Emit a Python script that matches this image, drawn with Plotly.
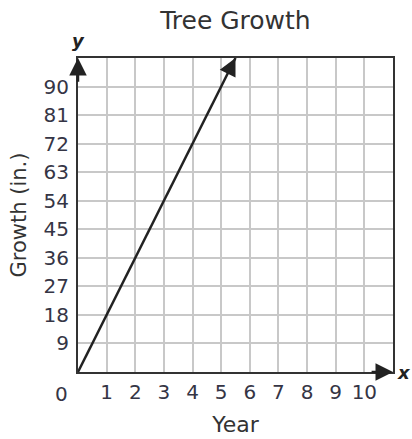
import plotly.graph_objects as go

# Data
years = [0, 5.5]
growth = [0, 99]
x_ticks = [1, 2, 3, 4, 5, 6, 7, 8, 9, 10]
y_ticks = [9, 18, 27, 36, 45, 54, 63, 72, 81, 90]
x_max = 11
y_max = 99

FONT = "DejaVu Sans"
TXT = "#353545"

fig = go.Figure()
fig.add_trace(go.Scatter(x=years, y=growth, mode="lines",
                         line=dict(color="#222222", width=2.5),
                         hoverinfo="skip", showlegend=False))

annotations = [
    # main line arrowhead
    dict(x=years[-1], y=growth[-1], ax=years[-1] - 0.3, ay=growth[-1] - 0.3 * 18,
         xref="x", yref="y", axref="x", ayref="y", showarrow=True, text="",
         arrowhead=2, arrowsize=1.4, arrowwidth=2.5, arrowcolor="#222222"),
    # y axis arrow
    dict(x=0, y=y_max, ax=0, ay=y_max - 8, xref="x", yref="y", axref="x", ayref="y",
         showarrow=True, text="", arrowhead=2, arrowsize=1.4, arrowwidth=2.5, arrowcolor="#222222"),
    # x axis arrow
    dict(x=x_max, y=0, ax=x_max - 0.8, ay=0, xref="x", yref="y", axref="x", ayref="y",
         showarrow=True, text="", arrowhead=2, arrowsize=1.4, arrowwidth=2.5, arrowcolor="#222222"),
    dict(x=0, y=y_max, xref="x", yref="y", yshift=5, text="<b><i>y</i></b>", showarrow=False,
         font=dict(family=FONT, size=18, color="#222222"), yanchor="bottom"),
    dict(x=x_max, y=0, xref="x", yref="y", xshift=2, text="<b><i>x</i></b>", showarrow=False,
         font=dict(family=FONT, size=18, color="#222222"), xanchor="left"),
    dict(x=0, y=0, xref="x", yref="y", xshift=-17, yshift=-8, text="0", showarrow=False,
         font=dict(family=FONT, size=20, color=TXT), yanchor="top", xanchor="center"),
]

fig.update_layout(
    width=412, height=439,
    margin=dict(l=78, r=19, t=58, b=67),
    paper_bgcolor="white", plot_bgcolor="white",
    title=dict(text="Tree Growth", x=0.5715, xanchor="center", y=0.954, yanchor="middle",
               font=dict(family=FONT, size=25, color="#333333")),
    annotations=annotations,
    xaxis=dict(range=[0, x_max], tickvals=x_ticks, ticktext=[str(v) for v in x_ticks],
               showgrid=True, gridcolor="#c8c8c8", gridwidth=1.5, zeroline=False,
               showline=True, linecolor="#333333", linewidth=2, mirror=True,
               ticks="", ticklabelstandoff=1, automargin=False,
               tickfont=dict(family=FONT, size=20, color=TXT),
               title=dict(text="Year", font=dict(family=FONT, size=22, color="#333333"), standoff=14),
               fixedrange=True),
    yaxis=dict(range=[0, y_max], tickvals=y_ticks, ticktext=[str(v) for v in y_ticks],
               showgrid=True, gridcolor="#c8c8c8", gridwidth=1.5, zeroline=False,
               showline=True, linecolor="#333333", linewidth=2, mirror=True,
               ticks="", ticklabelstandoff=3, automargin=False,
               tickfont=dict(family=FONT, size=20, color=TXT),
               title=dict(text="Growth (in.)", font=dict(family=FONT, size=21, color="#333333"), standoff=11),
               fixedrange=True),
)

fig.write_html("out.html", config={"displayModeBar": False},
               post_script="document.body.style.margin='0';document.body.style.overflow='hidden';")
